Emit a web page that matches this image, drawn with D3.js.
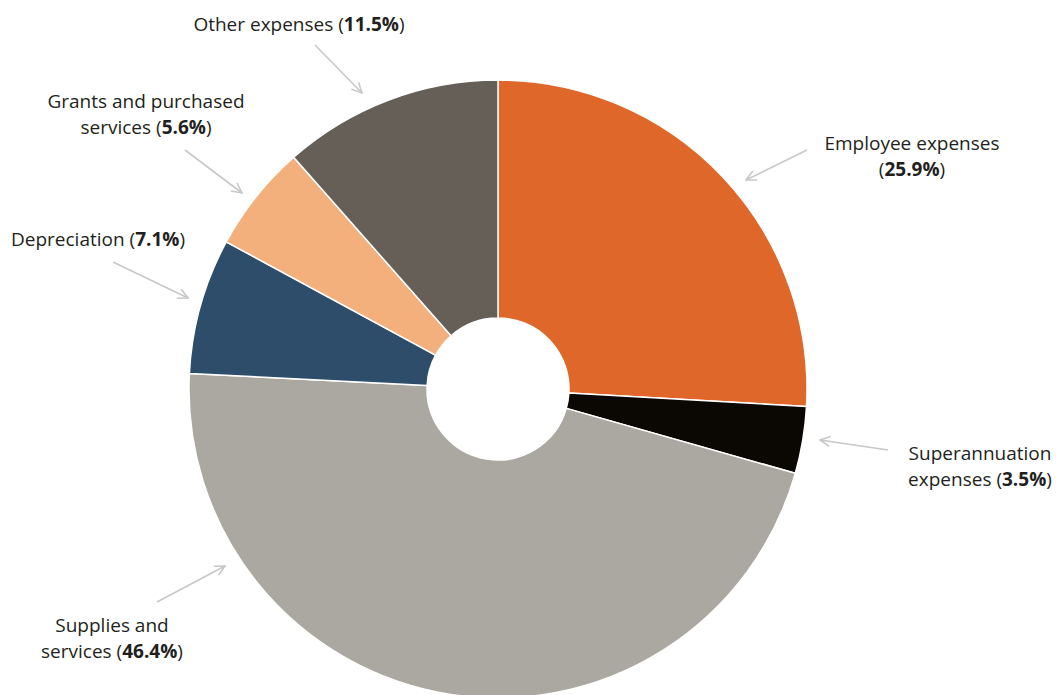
<!DOCTYPE html>
<html><head><meta charset="utf-8">
<script src="https://cdn.jsdelivr.net/npm/d3@7"></script>
<style>body{margin:0;background:#fff}svg{display:block}</style>
</head><body>
<svg id="chart" width="1056" height="695"></svg>
<script>
const categories = ["Employee expenses","Superannuation expenses","Supplies and services","Depreciation","Grants and purchased services","Other expenses"];
const values = [25.9, 3.5, 46.4, 7.1, 5.6, 11.5];
const colors = ["#E0672A","#0B0702","#AAA8A1","#2E4D6B","#F3B07C","#655F57"];
const labelLines = [
  [["Employee expenses",""],["(","25.9%",")"]],
  [["Superannuation",""],["expenses (","3.5%",")"]],
  [["Supplies and",""],["services (","46.4%",")"]],
  [["Depreciation (","7.1%",")"]],
  [["Grants and purchased",""],["services (","5.6%",")"]],
  [["Other expenses (","11.5%",")"]]
];
// layout (positions kept out of data arrays)
const labelPos = [[912,150],[980,460],[112,632],[98,246],[146,108],[299,31]];
const arrows = [[[807,150],[746,180]],[[888,450],[820,440]],[[157,602],[225,566]],[[113,262],[188,298]],[[185,150],[242,193]],[[315,45],[362,93]]];

const svg = d3.select("#chart");
const cx = 498, cy = 389, R = 309, r = 71;
const pie = d3.pie().sort(null).value(d => d)(values);
const arc = d3.arc().innerRadius(r).outerRadius(R);
const g = svg.append("g").attr("transform", `translate(${cx},${cy})`);
g.selectAll("path").data(pie).join("path")
  .attr("d", arc).attr("fill", (d,i) => colors[i])
  .attr("stroke", "#fff").attr("stroke-width", 1.5);

svg.append("defs").append("marker").attr("id","ah")
  .attr("viewBox","0 0 12 12").attr("refX",11).attr("refY",6)
  .attr("markerWidth",12).attr("markerHeight",12).attr("markerUnits","userSpaceOnUse")
  .attr("orient","auto")
  .append("path").attr("d","M1,1 L11,6 L1,11").attr("fill","none")
  .attr("stroke","#c8c8c8").attr("stroke-width",1.6);

svg.selectAll("line.arrow").data(arrows).join("line").attr("class","arrow")
  .attr("x1",d=>d[0][0]).attr("y1",d=>d[0][1]).attr("x2",d=>d[1][0]).attr("y2",d=>d[1][1])
  .attr("stroke","#c8c8c8").attr("stroke-width",1.6).attr("marker-end","url(#ah)");

labelLines.forEach((lines,i) => {
  const t = svg.append("text").attr("text-anchor","middle")
    .attr("font-family","'Open Sans', sans-serif").attr("font-size",19).attr("fill","#231f20");
  lines.forEach((parts,j) => {
    t.append("tspan").attr("x",labelPos[i][0]).attr("y",labelPos[i][1] + j*26).text(parts[0]);
    if (parts.length > 2) {
      t.append("tspan").attr("font-weight","bold").text(parts[1]);
      t.append("tspan").text(parts[2]);
    }
  });
});
</script>
</body></html>
